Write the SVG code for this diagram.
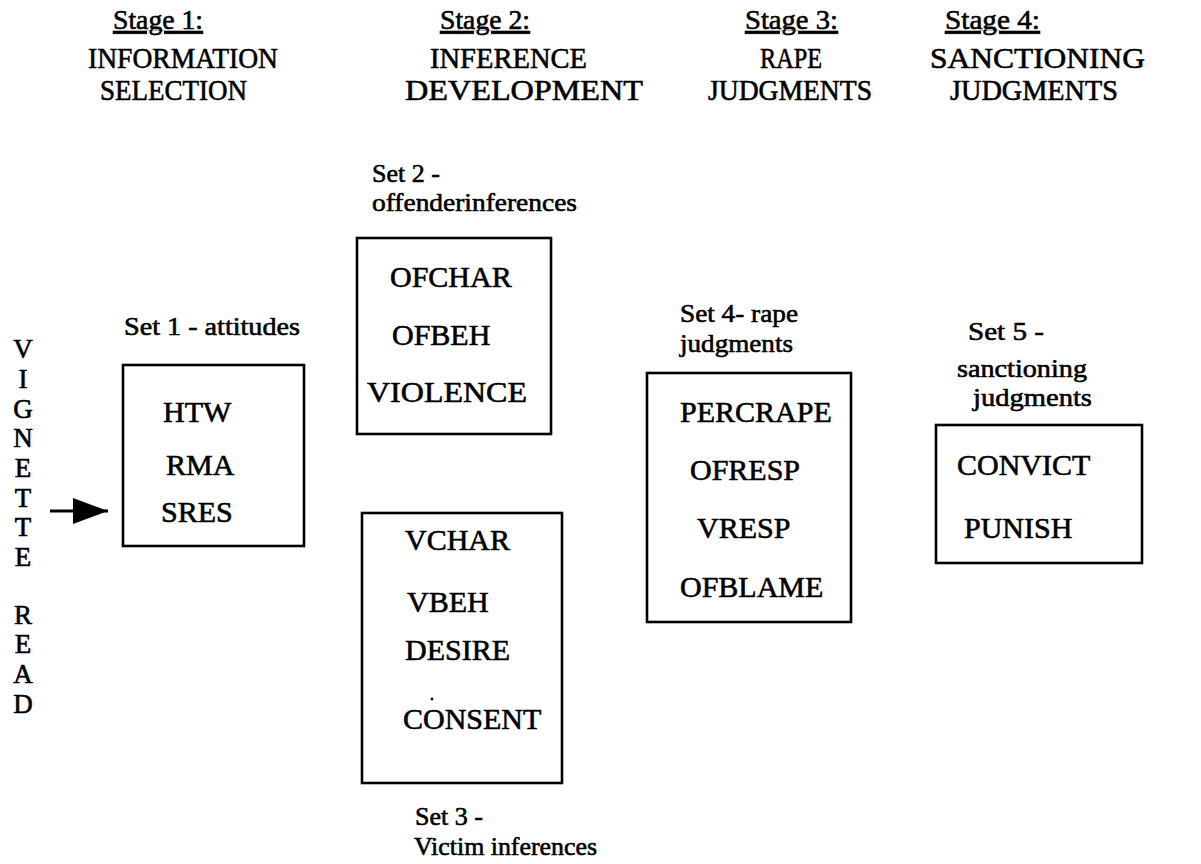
<svg xmlns="http://www.w3.org/2000/svg" width="1201" height="864" viewBox="0 0 1201 864">
<defs>
<style>
text{font-family:"Liberation Serif","Times New Roman",serif;fill:#000;stroke:#000;stroke-width:0.6}
.title{font-size:30px}
.stage{font-size:28px;text-decoration:underline}
.lbl{font-size:26px}
.item{font-size:30px}
.vert{font-size:27px;text-anchor:middle}
.box{fill:none;stroke:#000;stroke-width:2.6}
.conn{stroke:#000;stroke-width:3;fill:none}
</style>
<marker id="ah" markerUnits="userSpaceOnUse" markerWidth="36" markerHeight="28" refX="35" refY="13" orient="auto">
<path d="M0,0 L35,13 L0,26 Z" fill="#000"/>
</marker>
</defs>
<rect width="1201" height="864" fill="#fff"/>

<g id="titles">
<text class="stage" x="113" y="29" textLength="90" lengthAdjust="spacingAndGlyphs">Stage 1:</text>
<text class="title" x="88" y="68" textLength="190" lengthAdjust="spacingAndGlyphs">INFORMATION</text>
<text class="title" x="100" y="100" textLength="147" lengthAdjust="spacingAndGlyphs">SELECTION</text>
<text class="stage" x="440" y="29" textLength="90" lengthAdjust="spacingAndGlyphs">Stage 2:</text>
<text class="title" x="430" y="68" textLength="157" lengthAdjust="spacingAndGlyphs">INFERENCE</text>
<text class="title" x="405" y="100" textLength="238" lengthAdjust="spacingAndGlyphs">DEVELOPMENT</text>
<text class="stage" x="745" y="29" textLength="93" lengthAdjust="spacingAndGlyphs">Stage 3:</text>
<text class="title" x="760" y="68" textLength="62" lengthAdjust="spacingAndGlyphs">RAPE</text>
<text class="title" x="708" y="100" textLength="164" lengthAdjust="spacingAndGlyphs">JUDGMENTS</text>
<text class="stage" x="945" y="29" textLength="95" lengthAdjust="spacingAndGlyphs">Stage 4:</text>
<text class="title" x="930" y="68" textLength="215" lengthAdjust="spacingAndGlyphs">SANCTIONING</text>
<text class="title" x="950" y="100" textLength="168" lengthAdjust="spacingAndGlyphs">JUDGMENTS</text>
</g>

<g id="vignette-read">
<text class="vert" x="23" y="358">V</text>
<text class="vert" x="23" y="388">I</text>
<text class="vert" x="23" y="418">G</text>
<text class="vert" x="23" y="447">N</text>
<text class="vert" x="23" y="477">E</text>
<text class="vert" x="23" y="507">T</text>
<text class="vert" x="23" y="536">T</text>
<text class="vert" x="23" y="566">E</text>
<text class="vert" x="23" y="624">R</text>
<text class="vert" x="23" y="653">E</text>
<text class="vert" x="23" y="683">A</text>
<text class="vert" x="23" y="713">D</text>
</g>

<g id="set1">
<text class="lbl" x="124" y="335" textLength="176" lengthAdjust="spacingAndGlyphs">Set 1 - attitudes</text>
<rect class="box" x="123" y="365" width="181" height="181"/>
<text class="item" x="163" y="422">HTW</text>
<text class="item" x="166" y="475">RMA</text>
<text class="item" x="161" y="522">SRES</text>
</g>

<g id="set2">
<text class="lbl" x="372" y="182">Set 2 -</text>
<text class="lbl" x="372" y="211" textLength="205" lengthAdjust="spacingAndGlyphs">offenderinferences</text>
<rect class="box" x="357" y="238" width="194" height="196"/>
<text class="item" x="390" y="287">OFCHAR</text>
<text class="item" x="392" y="345">OFBEH</text>
<text class="item" x="367" y="402" textLength="160" lengthAdjust="spacingAndGlyphs">VIOLENCE</text>
</g>

<g id="set3">
<rect class="box" x="362" y="513" width="200" height="270"/>
<text class="item" x="405" y="550">VCHAR</text>
<text class="item" x="407" y="612">VBEH</text>
<text class="item" x="405" y="660">DESIRE</text>
<circle cx="432" cy="699" r="1.4" fill="#000"/>
<text class="item" x="403" y="729">CONSENT</text>
<text class="lbl" x="415" y="825">Set 3 -</text>
<text class="lbl" x="414" y="855" textLength="183" lengthAdjust="spacingAndGlyphs">Victim inferences</text>
</g>

<g id="set4">
<text class="lbl" x="680" y="322" textLength="118" lengthAdjust="spacingAndGlyphs">Set 4- rape</text>
<text class="lbl" x="680" y="352" textLength="113" lengthAdjust="spacingAndGlyphs">judgments</text>
<rect class="box" x="647" y="373" width="204" height="249"/>
<text class="item" x="680" y="422">PERCRAPE</text>
<text class="item" x="690" y="480">OFRESP</text>
<text class="item" x="697" y="538">VRESP</text>
<text class="item" x="680" y="597">OFBLAME</text>
</g>

<g id="set5">
<text class="lbl" x="968" y="340" textLength="76" lengthAdjust="spacingAndGlyphs">Set 5 -</text>
<text class="lbl" x="957" y="377" textLength="130" lengthAdjust="spacingAndGlyphs">sanctioning</text>
<text class="lbl" x="973" y="406" textLength="119" lengthAdjust="spacingAndGlyphs">judgments</text>
<rect class="box" x="936" y="425" width="206" height="138"/>
<text class="item" x="957" y="475">CONVICT</text>
<text class="item" x="964" y="538">PUNISH</text>
</g>

<g id="connectors">
<line class="conn" x1="50" y1="511" x2="108" y2="511" marker-end="url(#ah)"/>
</g>
</svg>
